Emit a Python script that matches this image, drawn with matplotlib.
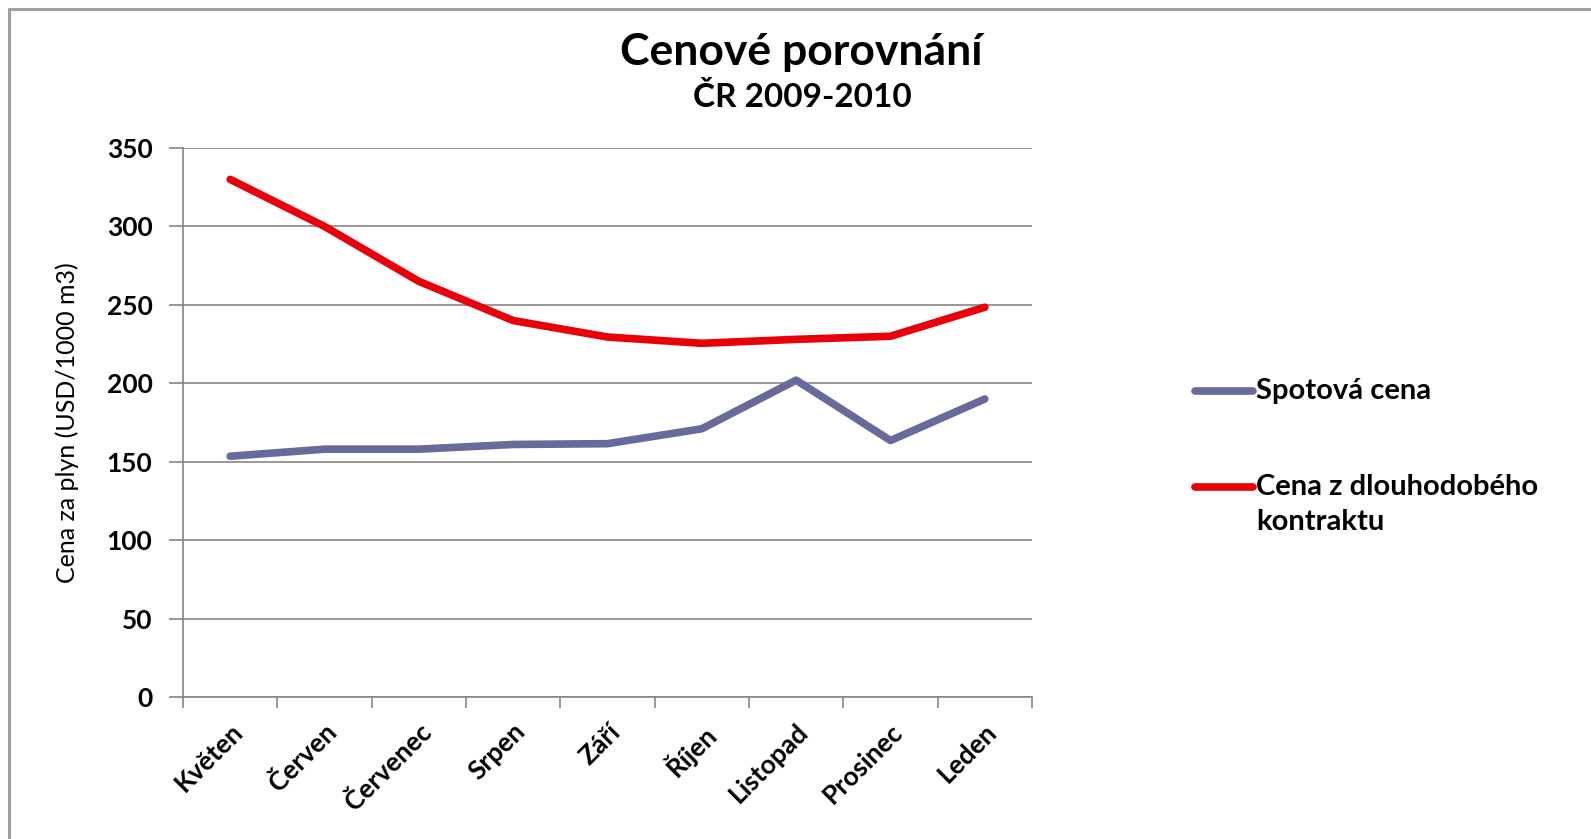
import matplotlib
matplotlib.use("Agg")
import matplotlib.pyplot as plt
from matplotlib.lines import Line2D
import numpy as np

months = ["Květen", "Červen", "Červenec", "Srpen", "Září", "Říjen", "Listopad", "Prosinec", "Leden"]
spot = [153.5, 158, 158, 161, 161.5, 171, 202, 163.5, 190]
contract = [330, 300, 265, 240, 229.5, 225.5, 228, 230, 248.5]
series_names = ["Spotová cena", "Cena z dlouhodobého\nkontraktu"]
yticks = [0, 50, 100, 150, 200, 250, 300, 350]

FONT = ["Lato", "DejaVu Sans"]
plt.rcParams['font.family'] = FONT

W, H = 1591, 839
fig = plt.figure(figsize=(W / 100, H / 100), dpi=100)
fig.patch.set_facecolor("white")

ax = fig.add_axes([183 / W, 1 - 697 / H, (1032 - 183) / W, (697 - 148) / H])
x = np.arange(len(months))
grey = "#868686"
blue = "#676a9b"
red = "#e8000b"

ax.plot(x, spot, color=blue, lw=5.5, solid_capstyle="round", solid_joinstyle="round", zorder=3)
ax.plot(x, contract, color=red, lw=5.5, solid_capstyle="round", solid_joinstyle="round", zorder=3)

ax.set_xlim(-0.5, len(months) - 0.5)
ax.set_ylim(0, 350)
ax.set_yticks(yticks)
ax.set_yticklabels([str(v) for v in yticks], fontsize=19, fontweight="bold")
ax.yaxis.grid(True, color=grey, lw=1.2)
ax.set_axisbelow(True)

# category labels at centers, tick marks at boundaries
ax.set_xticks(x)
ax.set_xticklabels(months, rotation=45, ha="right", rotation_mode="anchor",
                   fontsize=19, fontweight="bold")
ax.tick_params(axis="x", length=0, pad=16)
ax.set_xticks(np.arange(-0.5, len(months) + 0.5, 1), minor=True)
ax.tick_params(axis="x", which="minor", length=8, color=grey, width=1.2, direction="out")
ax.tick_params(axis="y", length=10, color=grey, width=1.2, direction="out", pad=12)

for s in ["top", "right"]:
    ax.spines[s].set_visible(False)
for s in ["left", "bottom"]:
    ax.spines[s].set_color(grey)
    ax.spines[s].set_linewidth(1.2)

ax.set_ylabel("Cena za plyn (USD/1000 m3)", fontsize=18, labelpad=20)

fig.text(801 / W, 1 - 52 / H, "Cenové porovnání", ha="center", va="center",
         fontsize=32, fontweight="bold")
fig.text(802 / W, 1 - 97 / H, "ČR 2009-2010", ha="center", va="center",
         fontsize=24, fontweight="bold")

# legend drawn manually
fig.add_artist(Line2D([1195 / W, 1253 / W], [1 - 391 / H, 1 - 391 / H], color=blue, lw=5.5,
                      solid_capstyle="round", transform=fig.transFigure))
fig.text(1256 / W, 1 - 391 / H, series_names[0], ha="left", va="center",
         fontsize=21, fontweight="bold")
fig.add_artist(Line2D([1195 / W, 1253 / W], [1 - 487 / H, 1 - 487 / H], color=red, lw=5.5,
                      solid_capstyle="round", transform=fig.transFigure))
fig.text(1256 / W, 1 - 474 / H, series_names[1], ha="left", va="top",
         fontsize=21, fontweight="bold", linespacing=1.45)

# outer border (top and left)
fig.add_artist(Line2D([9 / W, 1 - 2 / W], [1 - 9 / H, 1 - 9 / H], color="#a0a0a0", lw=2.2,
                      transform=fig.transFigure))
fig.add_artist(Line2D([9 / W, 9 / W], [0, 1 - 9 / H], color="#a0a0a0", lw=2.2,
                      transform=fig.transFigure))

fig.savefig("out.png", dpi=100, facecolor="white")
